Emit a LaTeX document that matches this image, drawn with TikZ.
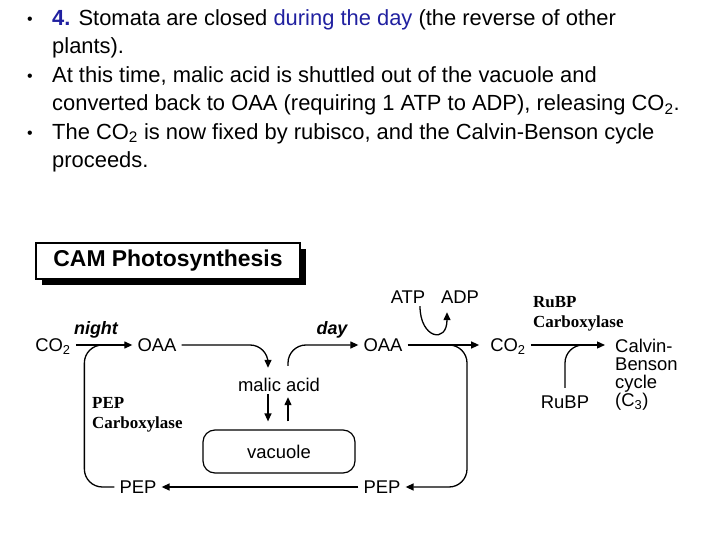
\documentclass[tikz,border=0pt]{standalone}
\usepackage{fontspec}
\usepackage{xcolor}
\setmainfont{Liberation Sans}
\newfontfamily\enzymefont{Liberation Serif}
\usetikzlibrary{positioning}
\usetikzlibrary{arrows.meta}
\usetikzlibrary{shadows}
\definecolor{textblue}{HTML}{2020A0}

\begin{document}
\begin{tikzpicture}[x=1bp, y=-1bp]
    % Stili per testi, nodi e frecce
    \tikzset{
        bullet text/.style={
            anchor=base west,
            align=left,
            inner sep=0pt,
            font=\fontsize{22}{28.5}\selectfont
        },
        bullet dot/.style={
            anchor=base,
            inner sep=0pt,
            font=\fontsize{16}{16}\selectfont
        },
        title box/.style={
            draw,
            fill=white,
            line width=1.2bp,
            minimum width=264bp,
            minimum height=36bp,
            font=\bfseries\fontsize{23}{23}\selectfont,
            drop shadow={shadow xshift=6bp, shadow yshift=-6bp, fill=black, opacity=1}
        },
        chem/.style={
            inner xsep=5bp,
            inner ysep=1bp,
            text height=14bp,
            text depth=2bp,
            font=\fontsize{18.5}{18.5}\selectfont
        },
        time label/.style={
            anchor=base,
            inner sep=0pt,
            font=\bfseries\itshape\fontsize{18}{18}\selectfont
        },
        enzyme/.style={
            anchor=base west,
            align=left,
            inner sep=0pt,
            font=\enzymefont\bfseries\fontsize{17}{20}\selectfont
        },
        cycle text/.style={
            anchor=base west,
            align=left,
            inner sep=0pt,
            font=\fontsize{18.5}{18}\selectfont
        },
        vacuole box/.style={
            draw,
            rounded corners=12bp,
            line width=1.2bp,
            minimum width=152bp,
            minimum height=43bp,
            font=\fontsize{18.5}{18.5}\selectfont
        },
        flow/.style={
            -{Triangle[length=8bp, width=7bp]},
            line width=1.3bp,
            rounded corners=18bp
        },
        merge/.style={
            line width=1.3bp,
            rounded corners=18bp
        }
    }

    \useasboundingbox (0,0) rectangle (720,540);

    % Testo puntato (ancora sulla base dell'ultima riga)
    \node[bullet dot] (dot1) at (30,25) {•};
    \node[bullet text] (item1) at (52,53.5) {{\bfseries\color{textblue}4.} Stomata are closed {\color{textblue}during the day} (the reverse of other\\plants).};
    \node[bullet dot] (dot2) at (30,82) {•};
    \node[bullet text] (item2) at (52,110.5) {At this time, malic acid is shuttled out of the vacuole and\\converted back to OAA (requiring 1 ATP to ADP), releasing CO\textsubscript{2}.};
    \node[bullet dot] (dot3) at (30,139) {•};
    \node[bullet text] (item3) at (52,167.5) {The CO\textsubscript{2} is now fixed by rubisco, and the Calvin-Benson cycle\\proceeds.};

    % Titolo
    \node[title box] (title) at (168,261) {CAM Photosynthesis};

    % Notte
    \node[chem] (co2night) at (53,345) {CO\textsubscript{2}};
    \node[chem] (oaanight) at (157,345) {OAA};
    \node[time label] (night) at (96,334) {night};
    \node[enzyme] (pepcarb) at (92,428) {PEP\\Carboxylase};
    \node[chem] (pepleft) at (138,487) {PEP};

    % Acido malico e vacuolo
    \node[chem] (malic) at (279,385) {malic acid};
    \node[vacuole box] (vacuole) at (279,451.5) {vacuole};

    % Giorno
    \node[time label] (day) at (332,334) {day};
    \node[chem] (oaaday) at (383,345) {OAA};
    \node[chem] (pepright) at (382,487) {PEP};
    \node[chem] (atp) at (408,297) {ATP};
    \node[chem] (adp) at (460,297) {ADP};
    \node[chem] (co2day) at (508,345) {CO\textsubscript{2}};
    \node[enzyme] (rubpcarb) at (533,327) {RuBP\\Carboxylase};
    \node[chem] (rubp) at (565,402) {RuBP};
    \node[cycle text] (calvin) at (615,406) {Calvin-\\Benson\\cycle\\(C\textsubscript{3})};

    % Punti di innesto
    \coordinate (mergenight) at (112,345);
    \coordinate (branchday) at (430,345);
    \coordinate (mergerubp) at (595,345);

    % Frecce
    \draw[flow] (co2night) -- (oaanight);
    \draw[merge] (pepleft.west) -- ++(-30,0) |- (mergenight);
    \draw[flow] (oaanight.east) -| ([xshift=-11bp, yshift=8bp]malic.north);
    \draw[flow] ([xshift=-11bp]malic.south) -- ([xshift=-11bp, yshift=8bp]vacuole.north);
    \draw[flow] ([xshift=9bp, yshift=8bp]vacuole.north) -- ([xshift=9bp, yshift=-3bp]malic.south);
    \draw[flow] ([xshift=9bp, yshift=10bp]malic.north) |- (oaaday.west);
    \draw[flow, shorten >=6bp] (oaaday) -- (co2day);
    \draw[flow] ([xshift=12bp]atp.south) .. controls +(0,32) and +(0,32) .. ([xshift=-13bp, yshift=-6bp]adp.south);
    \draw[flow] (branchday) -- ++(37,0) |- (pepright.east);
    \draw[flow] (pepright) -- (pepleft);
    \draw[flow, shorten >=10bp] (co2day.east) -- (co2day.east -| calvin.west);
    \draw[merge] ([yshift=5bp]rubp.north) |- (mergerubp);
\end{tikzpicture}
\end{document}
